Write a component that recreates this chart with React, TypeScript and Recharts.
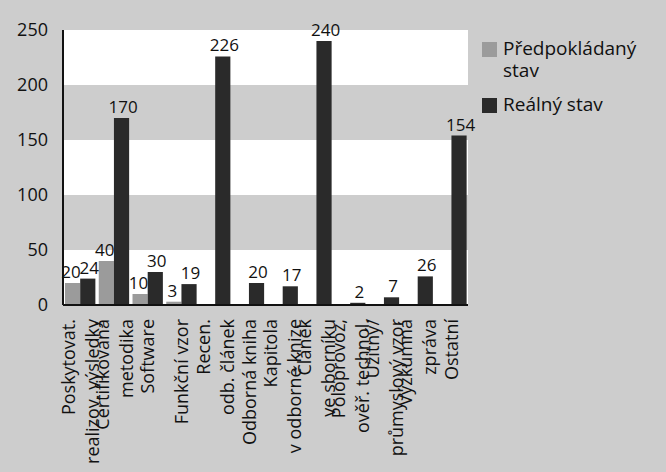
import React from "react";
import { BarChart, Bar, XAxis, YAxis, ReferenceArea, LabelList, Legend } from "recharts";

const categories = [
  "Poskytovat.\nrealizov. výsledky",
  "Certifikovaná\nmetodika",
  "Software",
  "Funkční vzor",
  "Recen.\nodb. článek",
  "Odborná kniha",
  "Kapitola\nv odborné knize",
  "Článek\nve sborníku",
  "Poloprovoz,\nověř. technol.",
  "Užitný/\nprůmyslový vzor",
  "Výzkumná\nzpráva",
  "Ostatní",
];
const predicted: (number | null)[] = [20, 40, 10, 3, null, null, null, null, null, null, null, null];
const real = [24, 170, 30, 19, 226, 20, 17, 240, 2, 7, 26, 154];
const yTicks = [0, 50, 100, 150, 200, 250];
const whiteBands: [number, number][] = [[0, 50], [100, 150], [200, 250]];
const seriesNames = ["Předpokládaný\nstav", "Reálný stav"];

const data = categories.map((c, i) => ({ name: c, predicted: predicted[i], real: real[i] }));

const FONT = "'Open Sans', sans-serif";
const BG = "#cdcdcd";
const GRAY = "#9b9b9b";
const DARK = "#2a2a2a";

const renderCatTick = (props: any) => {
  const { x, y, payload } = props;
  const lines = String(payload.value).split("\n");
  const spacing = 24;
  return (
    <g transform={`translate(${x},${y + 6}) rotate(-90)`}>
      {lines.map((l: string, i: number) => (
        <text
          key={i}
          x={0}
          y={(i - (lines.length - 1) / 2) * spacing}
          textAnchor="end"
          dominantBaseline="central"
          fontSize={18}
          fontFamily={FONT}
          fill="#111"
        >
          {l}
        </text>
      ))}
    </g>
  );
};

const LegendContent = () => (
  <div style={{ fontFamily: FONT, fontSize: 19, color: "#111", lineHeight: "22px" }}>
    <div style={{ display: "flex", alignItems: "flex-start" }}>
      <div style={{ width: 15, height: 15, background: GRAY, marginTop: 5, marginRight: 6 }} />
      <div style={{ whiteSpace: "pre" }}>{seriesNames[0]}</div>
    </div>
    <div style={{ display: "flex", alignItems: "flex-start", marginTop: 12 }}>
      <div style={{ width: 15, height: 15, background: DARK, marginTop: 5, marginRight: 6 }} />
      <div>{seriesNames[1]}</div>
    </div>
  </div>
);

const fmt = (v: any) => (v === null || v === undefined || v === 0 ? "" : v);

export default function App() {
  return (
    <div style={{ position: "absolute", left: 0, top: 0, width: 666, height: 472, background: BG }}>
      <BarChart
        width={666}
        height={472}
        data={data}
        margin={{ top: 30, right: 18, left: 0, bottom: 0 }}
        barSize={20}
        barGap={0}
      >
        {whiteBands.map(([a, b]) => (
          <ReferenceArea key={a} y1={a} y2={b} fill="#ffffff" fillOpacity={1} stroke="none" ifOverflow="hidden" />
        ))}
        <XAxis
          dataKey="name"
          interval={0}
          height={167}
          tick={renderCatTick}
          tickLine={false}
          axisLine={{ stroke: "#111", strokeWidth: 2 }}
        />
        <YAxis
          width={63}
          domain={[0, 250]}
          ticks={yTicks}
          tickLine={false}
          tickMargin={9}
          axisLine={{ stroke: "#111", strokeWidth: 2 }}
          tick={{ fontSize: 18, fontFamily: FONT, fill: "#111" }}
        />
        <Legend
          layout="vertical"
          verticalAlign="top"
          align="right"
          content={<LegendContent />}
          wrapperStyle={{ left: 482, top: 37, width: 180 }}
        />
        <Bar dataKey="predicted" fill={GRAY} isAnimationActive={false}>
          <LabelList dataKey="predicted" position="top" formatter={fmt} fontSize={17} fontFamily={FONT} fill="#111" dx={-1.5} />
        </Bar>
        <Bar dataKey="real" fill={DARK} isAnimationActive={false}>
          <LabelList dataKey="real" position="top" formatter={fmt} fontSize={17} fontFamily={FONT} fill="#111" dx={1.5} />
        </Bar>
      </BarChart>
    </div>
  );
}
